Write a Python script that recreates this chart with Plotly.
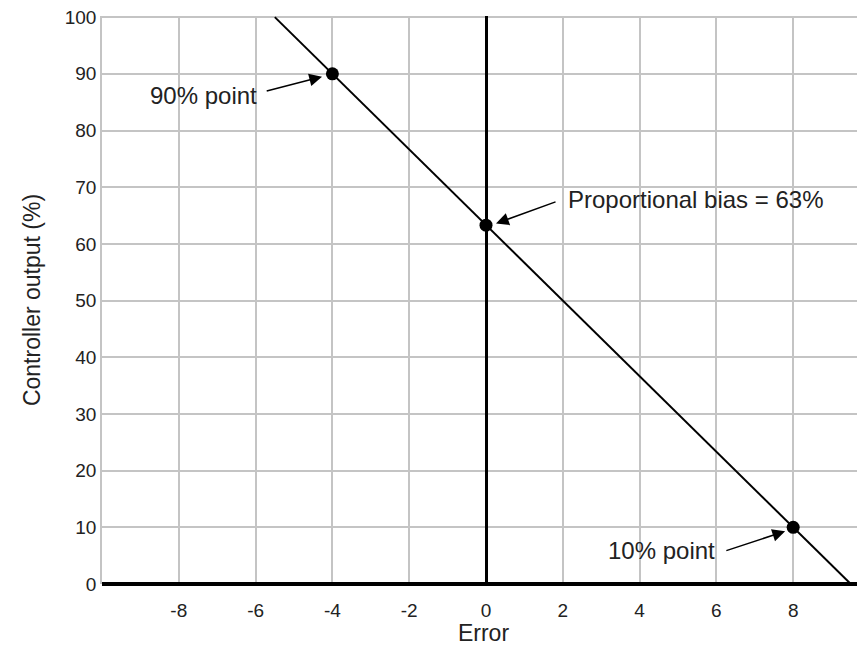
import plotly.graph_objects as go

# Data
line_x = [-5.5, 9.5]
line_y = [100, 0]
point_x = [-4, 0, 8]
point_y = [90, 63.3, 10]

x_tickvals = [-10, -8, -6, -4, -2, 0, 2, 4, 6, 8]
x_ticktext = ["", "-8", "-6", "-4", "-2", "0", "2", "4", "6", "8"]
y_tickvals = [0, 10, 20, 30, 40, 50, 60, 70, 80, 90, 100]

labels = ["90% point", "Proportional bias = 63%", "10% point"]
label_pos = [(-5.92, 86.2, "right"), (2.08, 67.8, "left"), (6.02, 5.9, "right")]
arrows = [  # tail x, tail y, head x, head y
    (-5.75, 86.9, -4.27, 89.5),
    (1.85, 67.5, 0.26, 63.6),
    (6.22, 5.8, 7.79, 9.3),
]

FONT = "Liberation Sans, Arial, sans-serif"

fig = go.Figure()
fig.add_trace(go.Scatter(x=line_x, y=line_y, mode="lines",
                         line=dict(color="black", width=2), hoverinfo="skip"))
fig.add_trace(go.Scatter(x=point_x, y=point_y, mode="markers",
                         marker=dict(color="black", size=13), hoverinfo="skip"))

annotations = []
for (tx, ty, anchor), txt in zip(label_pos, labels):
    annotations.append(dict(x=tx, y=ty, xref="x", yref="y", text=txt,
                            showarrow=False, xanchor=anchor, yanchor="middle",
                            font=dict(family=FONT, size=24, color="#222")))
for (ax_, ay_, hx, hy) in arrows:
    annotations.append(dict(x=hx, y=hy, ax=ax_, ay=ay_, xref="x", yref="y",
                            axref="x", ayref="y", text="", showarrow=True,
                            arrowhead=2, arrowsize=1.7, arrowwidth=1.5,
                            arrowcolor="black", standoff=0, startstandoff=0))

# page body has an 8px default margin, so margins are reduced accordingly
fig.update_layout(
    width=857, height=638,
    margin=dict(l=94, r=0, t=8, b=62),
    plot_bgcolor="white", paper_bgcolor="white",
    showlegend=False,
    font=dict(family=FONT, size=19, color="#222"),
    annotations=annotations,
    xaxis=dict(range=[-10, 9.87], tickvals=x_tickvals, ticktext=x_ticktext,
               showgrid=True, gridcolor="#c4c4c4", gridwidth=1.5,
               zeroline=True, zerolinecolor="black", zerolinewidth=3,
               showline=False, ticks="", automargin=False, ticklabelstandoff=13,
               title=dict(text="Error", font=dict(size=23), standoff=17)),
    yaxis=dict(range=[0, 100.2], tickvals=y_tickvals, automargin=False,
               showgrid=True, gridcolor="#c4c4c4", gridwidth=1.5,
               zeroline=True, zerolinecolor="black", zerolinewidth=3.5,
               showline=True, linecolor="#c4c4c4", linewidth=1.5,
               ticks="", ticklabeloverflow="allow",
               title=dict(text="Controller output (%)", font=dict(size=23), standoff=18)),
)

fig.write_html("out.html")
